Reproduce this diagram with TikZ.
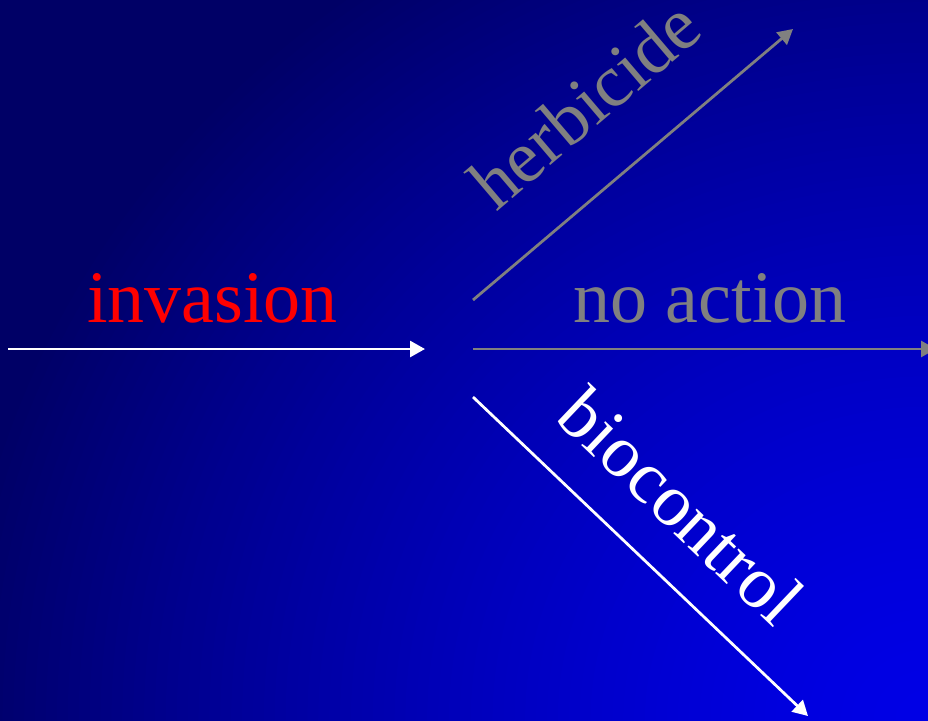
\documentclass[tikz,border=0pt]{standalone}
\usepackage{fontspec}
\setmainfont{Liberation Serif}
\usetikzlibrary{arrows.meta}
\definecolor{labelgray}{RGB}{128,128,128}
\definecolor{labelred}{RGB}{255,0,0}
\definecolor{bgdark}{RGB}{0,0,102}
\tikzset{
  lbl/.style={inner sep=0pt, anchor=base, font=\fontsize{74}{80}\selectfont},
  arr/.style={line width=2.75pt, -{Triangle[length=15pt,width=16pt]}},
}
\begin{document}
\begin{tikzpicture}[x=1pt,y=-1pt]
\useasboundingbox (0,0) rectangle (928,720);
% background gradient (bright from bottom-right corner)
\begin{scope}
\clip (0,0) rectangle (928,720);
\fill[bgdark] (0,0) rectangle (928,720);
\foreach \i in {120,...,1}{
  \pgfmathsetmacro\t{\i/90}
  \pgfmathtruncatemacro\v{max(102,102+128*(1-\t^1.5))}
  \definecolor{bgc}{RGB}{0,0,\v}
  \fill[bgc] (928,720) ellipse [x radius=\t*980pt, y radius=\t*910pt];
}
\end{scope}
% coordinates
\coordinate (start) at (8,349);
\coordinate (fork) at (425,349);
\coordinate (hs) at (473,300);
\coordinate (ht) at (793,29);
\coordinate (ns) at (473,349);
\coordinate (nt) at (936,349);
\coordinate (bs) at (473,397);
\coordinate (bt) at (808,716);
% arrows
\draw[arr, white] (start) -- (fork);
\draw[arr, labelgray] (hs) -- (ht);
\draw[arr, labelgray] (ns) -- (nt);
\draw[arr, white] (bs) -- (bt);
% labels
\node[lbl, text=labelred] (invasion) at (212.5,322) {invasion};
\node[lbl, text=labelgray] (noaction) at (710,322) {no action};
\node[lbl, text=labelgray, rotate=40.4] (herbicide) at (601,123) {herbicide};
\node[lbl, text=white, rotate=-43.6] (biocontrol) at (664,524) {biocontrol};
\end{tikzpicture}
\end{document}
